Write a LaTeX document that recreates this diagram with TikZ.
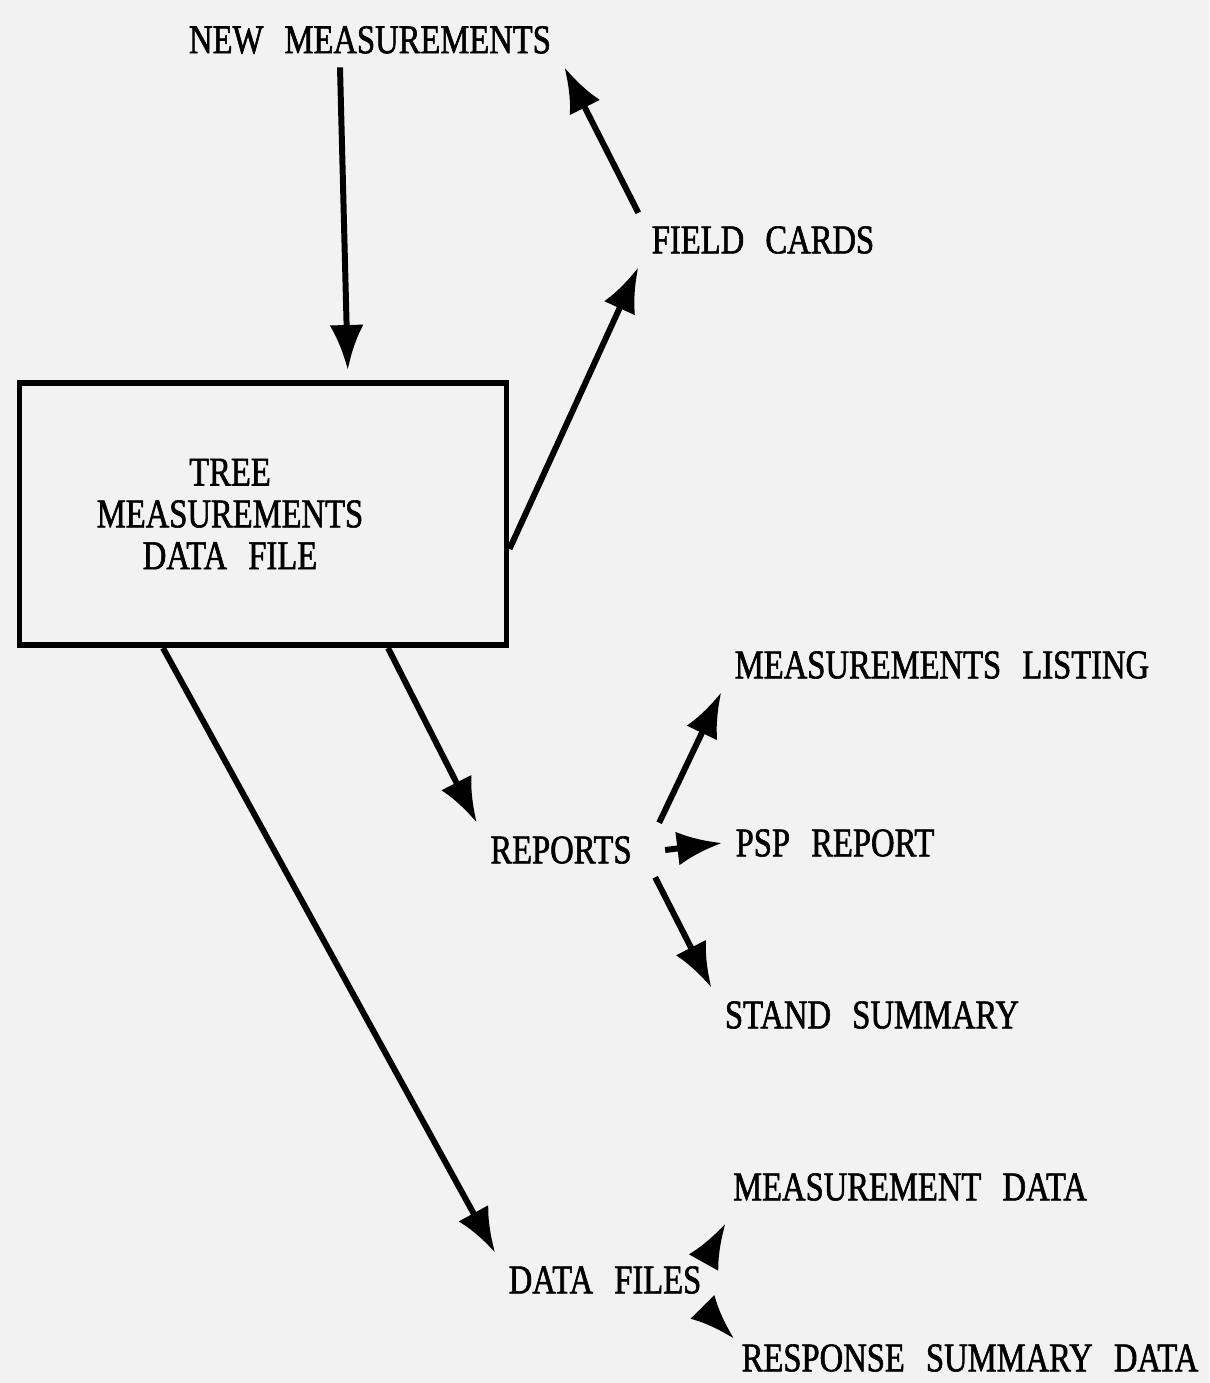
\documentclass[tikz,border=0pt]{standalone}
\usepackage{fontspec}
\usepackage{tikz}
\usetikzlibrary{arrows.meta}
\newfontfamily\plotfont[FakeStretch=0.8,WordSpace=2.6,FakeBold=1.4]{Liberation Serif}

\begin{document}
\begin{tikzpicture}[>={Latex[length=4.5mm,width=3.4mm]},line width=1.7pt,
    every node/.style={font=\plotfont\fontsize{11.6}{11.9}\selectfont,inner sep=3pt},
    filebox/.style={draw,line width=1.7pt,minimum width=4.87cm,minimum height=2.62cm}]
      \fill[black!5] (0,0) rectangle (12.09,-13.83);
      \useasboundingbox (0,0) rectangle (12.09,-13.83);

      \node (1) at (3.70,-0.40) {NEW MEASUREMENTS};
      \node (2) at (7.63,-2.40) {FIELD CARDS};
      \node (3) [filebox] at (2.63,-5.14) {};
      \node (3a) [align=center] at (2.30,-5.14) {TREE\\MEASUREMENTS\\DATA FILE};
      \node (4) at (5.61,-8.50) {REPORTS};
      \node (5) at (9.42,-6.65) {MEASUREMENTS LISTING};
      \node (6) at (8.35,-8.43) {PSP REPORT};
      \node (7) at (8.72,-10.15) {STAND SUMMARY};
      \node (8) at (6.05,-12.80) {DATA FILES};
      \node (9) at (9.10,-11.87) {MEASUREMENT DATA};
      \node (10) at (9.70,-13.58) {RESPONSE SUMMARY DATA};

      \draw[->,shorten >=1mm] ([xshift=-3mm]1.south) -- ([xshift=8.5mm]3.north);
      \draw[->] ([yshift=-3.5mm]3.east) -- (2.south west);
      \draw[->] (2.north west) -- (1.south east);

      \draw[->] ([xshift=12.5mm]3.south) -- (4.north west);
      \draw[->] ([xshift=-10mm]3.south) -- (8.north west);

      \draw[->] ([xshift=1.4mm]4.north east) -- (5.south west);
      \draw[->] ([xshift=2mm]4.east) -- (6.west);
      \draw[->] ([xshift=1mm]4.south east) -- (7.north west);

      \draw[->] ([xshift=-0.8mm,yshift=-0.4mm]8.north east) -- ([xshift=0.6mm,yshift=-0.9mm]9.south west);
      \draw[->] ([xshift=-1.2mm]8.south east) -- ([xshift=0.6mm,yshift=-0.8mm]10.north west);

    \end{tikzpicture}
\end{document}
